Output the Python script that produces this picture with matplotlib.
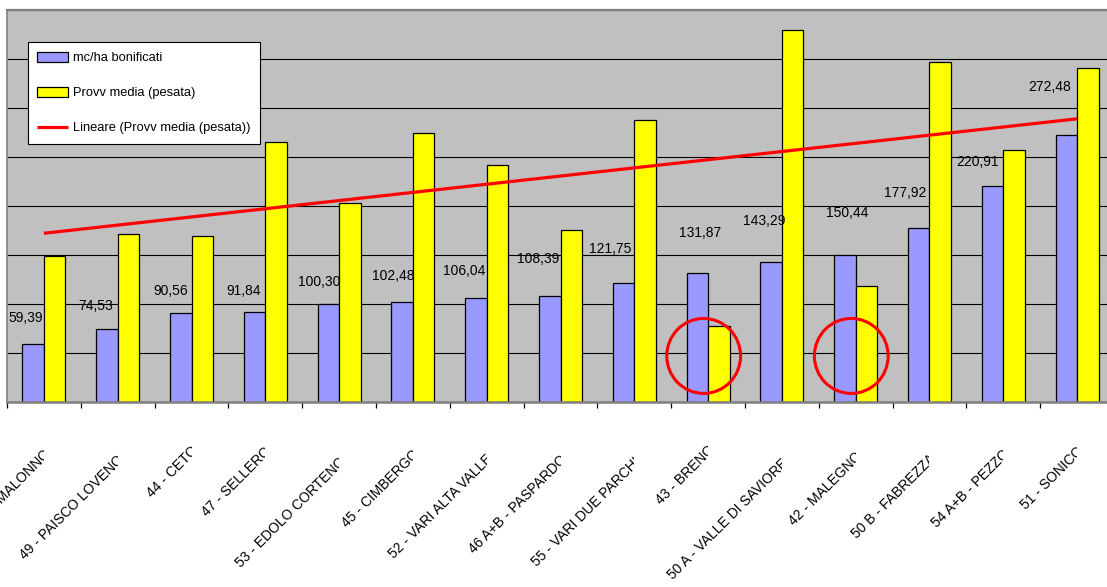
import numpy as np
import matplotlib
matplotlib.use("Agg")
import matplotlib.pyplot as plt
from matplotlib.patches import Ellipse
from matplotlib.transforms import (Bbox, TransformedBbox,
                                   blended_transform_factory, offset_copy)

# ---- data -------------------------------------------------------------
zones = [
    "48 - MALONNO", "49 - PAISCO LOVENO", "44 - CETO", "47 - SELLERO",
    "53 - EDOLO CORTENO", "45 - CIMBERGO", "52 - VARI ALTA VALLE",
    "46 A+B - PASPARDO", "55 - VARI DUE PARCHI", "43 - BRENO",
    "50 A - VALLE DI SAVIORE", "42 - MALEGNO", "50 B - FABREZZA",
    "54 A+B - PEZZO", "51 - SONICO",
]
mc_ha_bonificati = [59.39, 74.53, 90.56, 91.84, 100.30, 102.48, 106.04, 108.39,
                    121.75, 131.87, 143.29, 150.44, 177.92, 220.91, 272.48]
provv_media_pesata = [149, 171.5, 169.5, 265.5, 203, 274, 242, 176,
                      287.5, 78, 379.5, 118.5, 347, 257, 340.5]
highlighted = ["43 - BRENO", "42 - MALEGNO"]

# ---- label placement --------------------------------------------------
value_label_dx = [-8, -11, -10, -11, -9, -9, -12, -12, -13, 3, -7, 2, -14, -15, -17]   # px
value_label_lift = [26, 23.5, 23, 21, 22.5, 26, 27.5, 37.5, 34, 40.5, 41.5, 42.5,
                    35.5, 23.5, 49]                                                    # data units
zone_label_drop = [46, 51, 42, 43, 53, 46, 51, 51, 53, 41, 55, 48, 50, 46, 43]          # px below axis

W, H, DPI = 1107, 587, 100
LABEL_PT = 10
LEGEND_PT = 9.3
plt.rcParams['font.family'] = ['Liberation Sans', 'DejaVu Sans']

fig = plt.figure(figsize=(W / DPI, H / DPI), dpi=DPI, facecolor='white')
ax = fig.add_axes([7 / W, 185 / H, 1107 / W, 392 / H])
ax.set_facecolor('#C0C0C0')

x = np.arange(len(zones))
bw = 0.29
bars_mc = ax.bar(x - bw / 2, mc_ha_bonificati, bw, color='#9999FF',
                 edgecolor='black', linewidth=0.9, label='mc/ha bonificati', zorder=2)
bars_pv = ax.bar(x + bw / 2, provv_media_pesata, bw, color='#FFFF00',
                 edgecolor='black', linewidth=0.9, label='Provv media (pesata)', zorder=2)

# linear trend of the weighted average
coef = np.polyfit(x, provv_media_pesata, 1)
trend, = ax.plot(x, np.polyval(coef, x), color='#FF0000', lw=2.3,
                 solid_capstyle='butt', label='Lineare (Provv media (pesata))', zorder=3)

ax.set_xlim(-0.5, len(zones) - 0.5)
ax.set_ylim(0, 400)
ax.set_yticks(np.arange(0, 401, 50))
ax.yaxis.grid(True, color='black', lw=0.8)
ax.set_axisbelow(True)
ax.tick_params(axis='y', left=False, labelleft=False)
ax.set_xticks(np.arange(-0.5, len(zones), 1.0))
ax.set_xticklabels([])
ax.tick_params(axis='x', direction='out', length=4.5, width=0.9, color='black')

ax.spines['top'].set_color('#808080')
ax.spines['top'].set_linewidth(1.6)
ax.spines['left'].set_color('#808080')
ax.spines['left'].set_linewidth(1.2)
ax.spines['bottom'].set_color('#808080')
ax.spines['bottom'].set_linewidth(1.8)
ax.spines['right'].set_visible(False)

# value labels of the blue series
for i, v in enumerate(mc_ha_bonificati):
    ax.annotate(f"{v:.2f}".replace('.', ','), xy=(i - bw / 2, v + value_label_lift[i]),
                xytext=(value_label_dx[i], 0), textcoords='offset pixels',
                ha='center', va='center', fontsize=LABEL_PT, color='black', zorder=4)

# red rings around the zones where the average falls below the treated volume
for name in highlighted:
    i = zones.index(name)
    ax.add_patch(Ellipse((i - 0.06, 47), 1.0, 76.5, fill=False,
                         edgecolor='#FF0000', lw=2.2, zorder=4))

leg = ax.legend(handles=[bars_mc, bars_pv, trend], loc='upper left',
                bbox_to_anchor=(20.7 / 1107, 359.7 / 392), borderaxespad=0,
                frameon=True, fancybox=False, shadow=False, fontsize=LEGEND_PT,
                handlelength=2.4, handleheight=0.8, handletextpad=0.35,
                labelspacing=1.75, borderpad=0.75, framealpha=1, edgecolor='black')
leg.get_frame().set_linewidth(0.8)
leg.set_zorder(5)

# rotated zone names, cut at the category centre
blend = blended_transform_factory(ax.transData, ax.transAxes)
cap_px = 0.716 * LABEL_PT * DPI / 72
s = cap_px / np.sqrt(2)
for i, (name, drop) in enumerate(zip(zones, zone_label_drop)):
    tr = offset_copy(blend, fig=fig, x=s, y=-(drop + s), units='dots')
    t = fig.text(i, 0, name, transform=tr, rotation=45, rotation_mode='anchor',
                 ha='right', va='baseline', fontsize=LABEL_PT, color='black')
    t.set_clip_box(TransformedBbox(Bbox([[-50, -10], [i, 10]]), blend))
    t.set_clip_on(True)

fig.savefig('out.png', dpi=DPI, facecolor='white')
